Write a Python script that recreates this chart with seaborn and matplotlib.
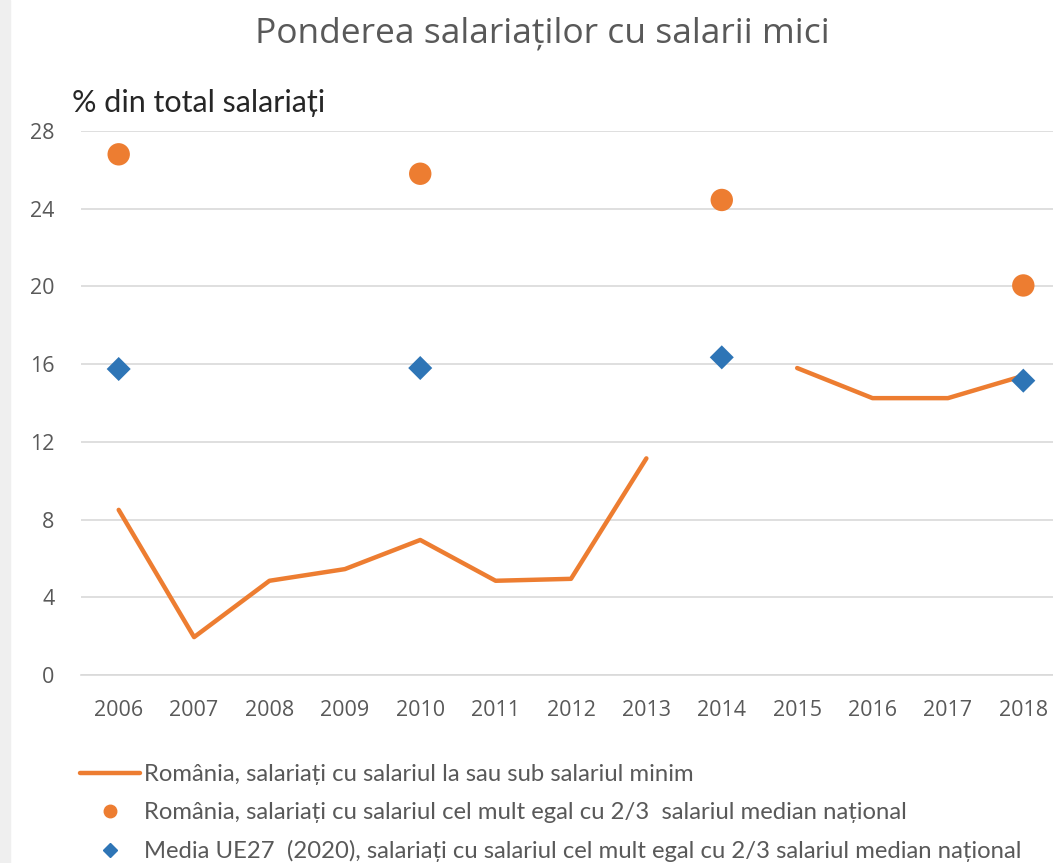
import numpy as np
import pandas as pd
import matplotlib
matplotlib.use("Agg")
import matplotlib.pyplot as plt
import seaborn as sns
from matplotlib.lines import Line2D
from matplotlib.patches import Rectangle

years = ["2006", "2007", "2008", "2009", "2010", "2011", "2012",
         "2013", "2014", "2015", "2016", "2017", "2018"]
# sub salariul minim (2014 lipseste)
minim = [8.5, 1.95, 4.85, 5.45, 6.95, 4.85, 4.95, 11.15, np.nan, 15.8, 14.25, 14.25, 15.4]
# 2/3 din salariul median, Romania
ro_years = ["2006", "2010", "2014", "2018"]
ro_median = [26.8, 25.8, 24.45, 20.05]
# media UE27 (2020)
eu_median = [15.75, 15.8, 16.35, 15.15]

labels = [
    "România, salariați cu salariul la sau sub salariul minim",
    "România, salariați cu salariul cel mult egal cu 2/3  salariul median național",
    "Media UE27  (2020), salariați cu salariul cel mult egal cu 2/3 salariul median național",
]

orange = "#ED7D31"
blue = "#2E75B6"

sns.set_theme(style="white")
plt.rcParams["font.family"] = ["Open Sans", "DejaVu Sans"]

df = pd.DataFrame({"pos": np.arange(len(years)), "val": minim})
df["seg"] = np.where(df["pos"] < 8, 0, 1)
df = df.dropna()
pos_of = {y: i for i, y in enumerate(years)}
dots = pd.DataFrame({"pos": [pos_of[y] for y in ro_years], "ro": ro_median, "eu": eu_median})

fig = plt.figure(figsize=(10.53, 8.63), dpi=100)
fig.patches.append(Rectangle((0, 0), 10 / 1053, 1, transform=fig.transFigure,
                             color="#efefef", zorder=0))
ax = fig.add_axes([81 / 1053, 188 / 863, 980 / 1053, 544 / 863])

sns.lineplot(data=df, x="pos", y="val", units="seg", estimator=None,
             color=orange, linewidth=3.2, ax=ax)
sns.scatterplot(data=dots, x="pos", y="ro", color=orange, s=260,
                edgecolor="none", ax=ax, zorder=3)
sns.scatterplot(data=dots, x="pos", y="eu", color=blue, marker="D", s=150,
                edgecolor="none", ax=ax, zorder=3)

ax.set_xlim(-0.5, len(years) - 0.5)
ax.set_ylim(0, 28)
ax.set_yticks(range(0, 29, 4))
ax.set_xticks(range(len(years)))
ax.set_xticklabels(years)
ax.set_xlabel("")
ax.set_ylabel("")
ax.grid(axis="y", color="#d9d9d9", linewidth=1.2)
ax.grid(axis="x", visible=False)
for side in ["top", "right", "left"]:
    ax.spines[side].set_visible(False)
ax.spines["bottom"].set_color("#d9d9d9")
ax.spines["bottom"].set_linewidth(1.2)
ax.tick_params(axis="both", length=0, labelsize=15.5, labelcolor="#595959")
ax.tick_params(axis="y", pad=19)
ax.tick_params(axis="x", pad=18)

fig.text(542 / 1053, 1 - 33 / 863, "Ponderea salariaților cu salarii mici",
         ha="center", va="center", fontsize=25.5, color="#595959")
fig.text(72 / 1053, 1 - 103 / 863, "% din total salariați",
         ha="left", va="center", fontsize=22, color="#262626",
         family=["Lato", "DejaVu Sans"])

handles = [
    Line2D([], [], color=orange, linewidth=3.2),
    Line2D([], [], color=orange, marker="o", linestyle="none", markersize=9),
    Line2D([], [], color=blue, marker="D", linestyle="none", markersize=7),
]
fig.legend(handles, labels, loc="upper left", bbox_to_anchor=(80 / 1053, 1 - 764 / 863),
           frameon=False, labelcolor="#595959", handlelength=2.5,
           handletextpad=0.2, labelspacing=0.72, borderaxespad=0, borderpad=0,
           prop={"family": ["Lato", "DejaVu Sans"], "size": 17.2})

fig.savefig("out.png", dpi=100)
